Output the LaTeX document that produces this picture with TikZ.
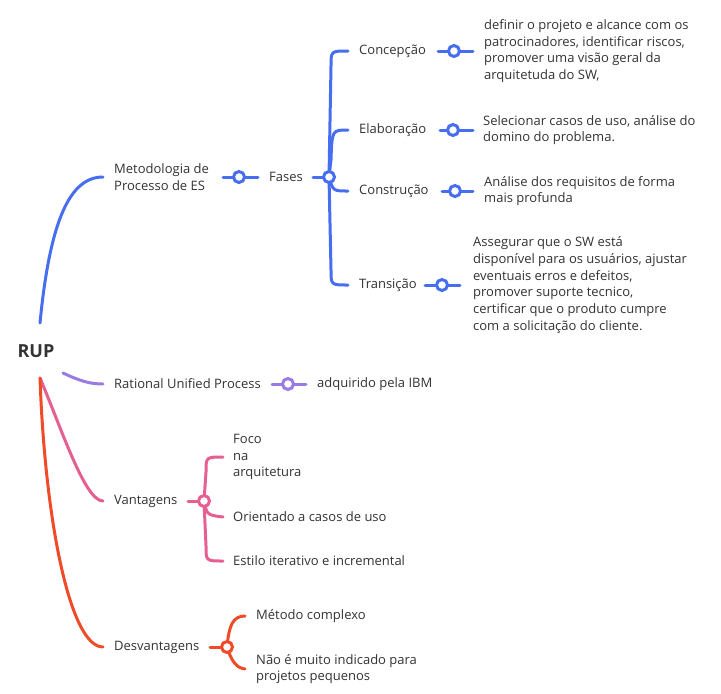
\documentclass[tikz,border=0pt]{standalone}
\usepackage{fontspec}
\setmainfont{Open Sans}
\definecolor{bl}{RGB}{72,110,240}
\definecolor{pu}{RGB}{155,122,225}
\definecolor{pk}{RGB}{230,95,145}
\definecolor{rd}{RGB}{240,75,40}
\definecolor{txtc}{RGB}{51,51,51}
\tikzset{
  txt/.style={font=\fontsize{13}{16.8}\selectfont, text=txtc, align=left, inner sep=0pt, anchor=west},
  br/.style={line width=3pt, line cap=round},
  dot/.style={circle, draw=#1, fill=white, line width=3pt, minimum size=11pt, inner sep=0pt},
}
\begin{document}
\begin{tikzpicture}[x=1pt,y=-1pt]
\useasboundingbox[fill=white] (0,0) rectangle (721,694);
% text nodes
\node[font=\fontsize{18}{20}\selectfont\bfseries, text=txtc, inner sep=0pt] (rup) at (36,351) {RUP};
\node[txt] (metod) at (114,177) {Metodologia de\\Processo de ES};
\node[txt] (fases) at (269,177) {Fases};
\node[txt] (conc) at (359,51) {Concepção};
\node[txt] (elab) at (359,130) {Elaboração};
\node[txt] (constr) at (359,191) {Construção};
\node[txt] (trans) at (359,285) {Transição};
\node[txt] (concd) at (484,51) {definir o projeto e alcance com os\\patrocinadores, identificar riscos,\\promover uma visão geral da\\arquitetuda do SW,};
\node[txt] (elabd) at (483,130) {Selecionar casos de uso, análise do\\domino do problema.};
\node[txt] (constrd) at (484,191) {Análise dos requisitos de forma\\mais profunda};
\node[txt] (transd) at (473,285) {Assegurar que o SW está\\disponível para os usuários, ajustar\\eventuais erros e defeitos,\\promover suporte tecnico,\\certificar que o produto cumpre\\com a solicitação do cliente.};
\node[txt] (rat) at (114,384) {Rational Unified Process};
\node[txt] (ibm) at (317,384) {adquirido pela IBM};
\node[txt] (vant) at (114,501) {Vantagens};
\node[txt] (foco) at (233,457) {Foco\\na\\arquitetura};
\node[txt] (orient) at (233,517) {Orientado a casos de uso};
\node[txt] (estilo) at (233,561) {Estilo iterativo e incremental};
\node[txt] (desv) at (114,647) {Desvantagens};
\node[txt] (metodo) at (256,616) {Método complexo};
\node[txt] (nao) at (256,669) {Não é muito indicado para\\projetos pequenos};
% anchor coordinates
\coordinate (rupT) at (40,323);
\coordinate (rupB) at (40,378);
\coordinate (rupR) at (63,373);
\coordinate (d1) at (239,177);
\coordinate (d2) at (329,177);
\coordinate (d3) at (454,51);
\coordinate (d4) at (453,130);
\coordinate (d5) at (455,191);
\coordinate (d6) at (442,285);
\coordinate (d7) at (288,384);
\coordinate (d8) at (204,501);
\coordinate (d9) at (227,647);
% main branches
\draw[br,bl] (rupT) .. controls (50,220) and (70,177) .. ([xshift=-11pt]metod.west);
\draw[br,pu] (rupR) .. controls (80,381) and (90,384) .. ([xshift=-11pt]rat.west);
\draw[br,pk] (rupB) .. controls (62,430) and (85,501) .. ([xshift=-11pt]vant.west);
\draw[br,rd] (rupB) .. controls (45,520) and (70,647) .. ([xshift=-11pt]desv.west);
% blue
\draw[br,bl] ([xshift=-16pt]d1) -- ([xshift=19pt]d1);
\draw[br,bl] ([xshift=-16pt]d2) -- (d2);
\draw[br,bl] (d2) -- (331,66) .. controls (331,51) .. ([xshift=-11pt]conc.west);
\draw[br,bl] (d2) -- (331,160) .. controls (332,130) .. ([xshift=-11pt]elab.west);
\draw[br,bl] (d2) .. controls (333,191) .. ([xshift=-11pt]constr.west);
\draw[br,bl] (d2) -- (331,270) .. controls (331,285) .. ([xshift=-11pt]trans.west);
\draw[br,bl] ([xshift=-16pt]d3) -- ([xshift=19pt]d3);
\draw[br,bl] ([xshift=-13pt]d4) -- ([xshift=20pt]d4);
\draw[br,bl] ([xshift=-13pt]d5) -- ([xshift=18pt]d5);
\draw[br,bl] ([xshift=-17pt]d6) -- ([xshift=18pt]d6);
% purple
\draw[br,pu] ([xshift=-16pt]d7) -- ([xshift=18pt]d7);
% pink
\draw[br,pk] ([xshift=-16pt]d8) -- (d8);
\draw[br,pk] (d8) -- (206,472) .. controls (206,457) .. ([xshift=-10pt]foco.west);
\draw[br,pk] (d8) .. controls (207,515) .. ([xshift=-10pt]orient.west);
\draw[br,pk] (d8) -- (206,546) .. controls (206,561) .. ([xshift=-10pt]estilo.west);
% red
\draw[br,rd] ([xshift=-17pt]d9) -- (d9);
\draw[br,rd] (d9) .. controls (229,625) and (233,616) .. ([xshift=-11pt]metodo.west);
\draw[br,rd] (d9) .. controls (231,660) and (236,668) .. ([xshift=-11pt]nao.west);
% dots
\node[dot=bl] (c1) at (d1) {};
\node[dot=bl] (c2) at (d2) {};
\node[dot=bl] (c3) at (d3) {};
\node[dot=bl] (c4) at (d4) {};
\node[dot=bl] (c5) at (d5) {};
\node[dot=bl] (c6) at (d6) {};
\node[dot=pu] (c7) at (d7) {};
\node[dot=pk] (c8) at (d8) {};
\node[dot=rd] (c9) at (d9) {};
\end{tikzpicture}
\end{document}
